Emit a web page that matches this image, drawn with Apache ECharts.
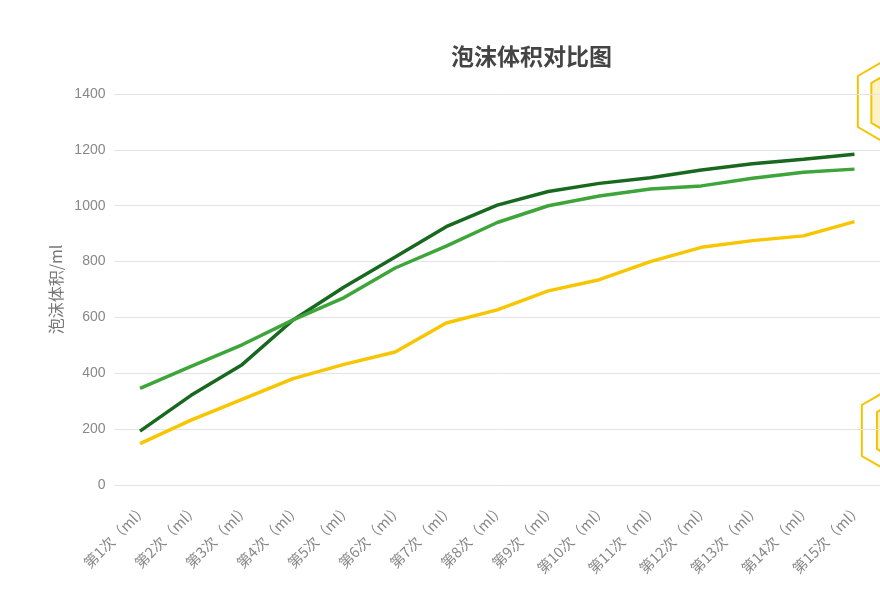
<!DOCTYPE html>
<html>
<head>
<meta charset="utf-8">
<script src="https://cdn.jsdelivr.net/npm/echarts@6/dist/echarts.min.js"></script>
<style>
  html, body { margin: 0; padding: 0; background: #fff; }
  #main { width: 880px; height: 590px; }
</style>
</head>
<body>
<div id="main"></div>
<script>
// 横轴类别
var categories = ['第1次（ml）', '第2次（ml）', '第3次（ml）', '第4次（ml）', '第5次（ml）',
    '第6次（ml）', '第7次（ml）', '第8次（ml）', '第9次（ml）', '第10次（ml）',
    '第11次（ml）', '第12次（ml）', '第13次（ml）', '第14次（ml）', '第15次（ml）'];

// 三组数据
var darkGreenData = [193, 321, 431, 591, 709, 816, 925, 1002, 1051, 1080, 1100, 1128, 1150, 1166, 1184];
var greenData = [346, 425, 502, 591, 671, 777, 855, 940, 1000, 1035, 1060, 1071, 1098, 1120, 1131];
var yellowData = [148, 232, 307, 381, 432, 476, 580, 627, 695, 735, 800, 851, 875, 892, 943];

var yTicks = [0, 200, 400, 600, 800, 1000, 1200, 1400];

// 右侧六边形装饰
function hexPoints(cx, cy, r) {
    var pts = [];
    for (var k = 0; k < 6; k++) {
        var a = (-90 + 60 * k) * Math.PI / 180;
        pts.push([cx + r * Math.cos(a), cy + r * Math.sin(a)]);
    }
    return pts;
}

function hexagon(cx, cy, r, fill) {
    return {
        type: 'polygon',
        silent: true,
        shape: {points: hexPoints(cx, cy, r)},
        style: {fill: fill, stroke: '#f5c400', lineWidth: 2}
    };
}

var chartDom = document.getElementById('main');
var myChart = echarts.init(chartDom);
var option;

option = {
    backgroundColor: '#fff',
    animation: false,
    title: {
        text: '泡沫体积对比图',
        left: 446,
        top: 40,
        textStyle: {
            fontSize: 23,
            fontWeight: 'bold',
            color: '#444',
            fontFamily: 'Noto Sans CJK SC'
        }
    },
    grid: {
        left: 114.5,
        right: -0.5,
        top: 94,
        bottom: 105,
        containLabel: false
    },
    xAxis: {
        type: 'category',
        data: categories,
        axisLine: {lineStyle: {color: '#e3e3e3'}},
        axisTick: {show: false},
        axisLabel: {
            rotate: 45,
            interval: 0,
            color: '#888',
            fontSize: 14.5,
            margin: 16,
            verticalAlign: 'top',
            fontFamily: 'Noto Sans CJK SC'
        }
    },
    yAxis: {
        type: 'value',
        min: yTicks[0],
        max: yTicks[yTicks.length - 1],
        interval: 200,
        name: '泡沫体积/ml',
        nameLocation: 'middle',
        nameGap: 50,
        nameTextStyle: {
            color: '#777',
            fontSize: 16,
            fontFamily: 'Noto Sans CJK SC'
        },
        axisLine: {show: false},
        axisTick: {show: false},
        axisLabel: {
            color: '#888',
            fontSize: 14,
            margin: 9,
            fontFamily: 'Liberation Sans',
            formatter: function (v) { return String(v); }
        },
        splitLine: {lineStyle: {color: '#e3e3e3'}}
    },
    series: [
        {
            name: '第一组',
            type: 'line',
            data: darkGreenData,
            symbol: 'none',
            lineStyle: {color: '#18691f', width: 3.5},
            itemStyle: {color: '#18691f'}
        },
        {
            name: '第二组',
            type: 'line',
            data: greenData,
            symbol: 'none',
            lineStyle: {color: '#3ea53a', width: 3.5},
            itemStyle: {color: '#3ea53a'}
        },
        {
            name: '第三组',
            type: 'line',
            data: yellowData,
            symbol: 'none',
            lineStyle: {color: '#f7c600', width: 3.5},
            itemStyle: {color: '#f7c600'}
        }
    ],
    graphic: [
        hexagon(902, 101.5, 51, '#fff'),
        hexagon(906, 103, 40, '#fdf3c6'),
        hexagon(906, 430.5, 51, '#fff'),
        hexagon(909, 430.5, 37, '#fdf3c6')
    ]
};

option && myChart.setOption(option);
</script>
</body>
</html>
